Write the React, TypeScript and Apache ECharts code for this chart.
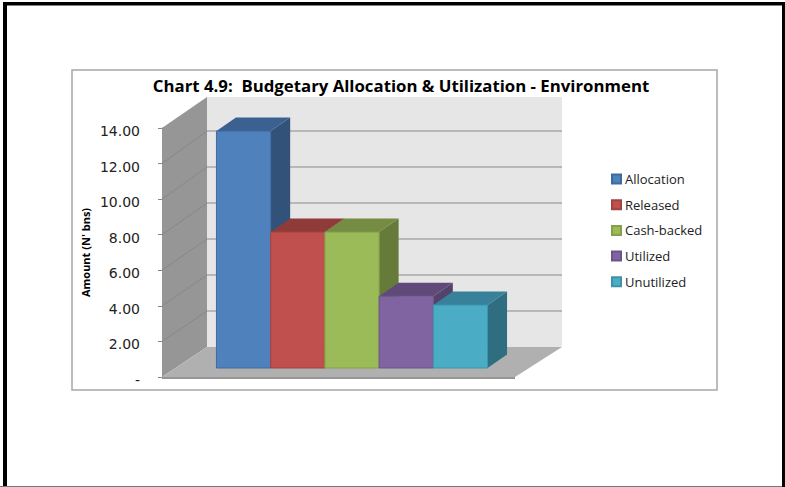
import React, { useEffect, useRef } from "react";
import * as echarts from "echarts";

const titleText = "Chart 4.9:  Budgetary Allocation & Utilization - Environment";
const yAxisName = "Amount (N' bns)";
const categoryLabels = ["Environment"];
const seriesNames = ["Allocation", "Released", "Cash-backed", "Utilized", "Unutilized"];
const seriesValues = [13.32, 7.64, 7.64, 4.04, 3.54];
const tickValues = [0, 2, 4, 6, 8, 10, 12, 14];
const frontColors = ["#4f81bd", "#c0504d", "#9bbb59", "#8064a2", "#4bacc6"];
const topColors = ["#3c6191", "#8f3b39", "#748c43", "#5f4a7a", "#38819a"];
const sideColors = ["#32527a", "#7c3331", "#667a3a", "#53426b", "#2f6e80"];
const edgeColors = ["#3f6aa0", "#a04341", "#84a04a", "#6c5489", "#3f93a9"];

const WALL_DX = 45;
const WALL_DY = 30;
const BACK_SCALE = 1.012;
const BAR_INSET_DX = 13.5;
const BAR_INSET_DY = 9;
const BAR_DEPTH_DX = 19.5;
const BAR_DEPTH_DY = 13.5;
const BAR_GROUP_RATIO = 0.768;

const renderWalls = (params: any, api: any) => {
  const value = api.value(0);
  const ys = api.coord([0, value])[1];
  const y0 = api.coord([0, 0])[1];
  const yMax = api.coord([0, 14])[1];
  const cs = params.coordSys;
  const xL = cs.x;
  const xR = cs.x + cs.width;
  const bx = xL + WALL_DX;
  const backRight = xR + WALL_DX + 2;
  const backY = (v: number) => y0 - WALL_DY - (y0 - v) * BACK_SCALE;
  const wallTop = yMax - WALL_DY - 1;
  const children: any[] = [];
  if (value === 0) {
    children.push(
      { type: "rect", shape: { x: bx, y: wallTop, width: backRight - bx, height: y0 - WALL_DY - wallTop }, style: { fill: "#e6e6e6" } },
      { type: "polygon", shape: { points: [[xL, yMax], [bx, wallTop], [bx, y0 - WALL_DY], [xL, y0]] }, style: { fill: "#969696" } },
      { type: "polygon", shape: { points: [[xL, y0], [bx, y0 - WALL_DY], [backRight, y0 - WALL_DY], [xR, y0]] }, style: { fill: "#b0b0b0" } },
      { type: "rect", shape: { x: xL, y: y0, width: xR - xL, height: 2 }, style: { fill: "#969696" } }
    );
  } else if (value < 14) {
    const by = backY(ys);
    children.push(
      { type: "line", shape: { x1: xL, y1: ys, x2: bx, y2: by }, style: { stroke: "#878787", lineWidth: 1 } },
      { type: "line", shape: { x1: bx, y1: by, x2: backRight, y2: by }, style: { stroke: "#a9a9a9", lineWidth: 1.5 } }
    );
  }
  return { type: "group", children };
};

const renderBar = (params: any, api: any) => {
  const i = params.seriesIndex - 1;
  const band = api.size([1, 0])[0];
  const center = api.coord([0, 0])[0];
  const total = band * BAR_GROUP_RATIO;
  const w = total / seriesNames.length;
  const x = center - total / 2 + i * w + BAR_INSET_DX;
  const yb = api.coord([0, 0])[1] - BAR_INSET_DY;
  const yt = api.coord([0, api.value(1)])[1] - BAR_INSET_DY;
  const dx = BAR_DEPTH_DX;
  const dy = BAR_DEPTH_DY;
  return {
    type: "group",
    children: [
      { type: "polygon", shape: { points: [[x + w, yt], [x + w + dx, yt - dy], [x + w + dx, yb - dy], [x + w, yb]] }, style: { fill: sideColors[i] } },
      { type: "polygon", shape: { points: [[x, yt], [x + dx, yt - dy], [x + w + dx, yt - dy], [x + w, yt]] }, style: { fill: topColors[i] } },
      { type: "rect", shape: { x, y: yt, width: w, height: yb - yt }, style: { fill: frontColors[i], stroke: edgeColors[i], lineWidth: 1 } },
    ],
  };
};

export default function App() {
  const ref = useRef<HTMLDivElement>(null);
  useEffect(() => {
    const chart = echarts.init(ref.current!, undefined, { renderer: "svg" });
    chart.setOption({
      animation: false,
      backgroundColor: "#ffffff",
      title: {
        text: titleText,
        left: 396,
        top: 72,
        textAlign: "center",
        textStyle: { fontFamily: "Open Sans", fontSize: 16.8, fontWeight: "bold", color: "#000000" },
      },
      legend: {
        orient: "vertical",
        left: 606,
        top: 167,
        itemWidth: 9,
        itemHeight: 9,
        itemGap: 11.7,
        icon: "rect",
        data: seriesNames,
        selectedMode: false,
        textStyle: { fontFamily: "Open Sans", fontSize: 13, color: "#222222", padding: [0, 0, 0, -1], height: 14, lineHeight: 14 },
      },
      grid: { left: 162, top: 128, width: 353, height: 249 },
      xAxis: {
        type: "category",
        data: categoryLabels,
        axisLine: { show: false },
        axisTick: { show: false },
        axisLabel: { show: false },
      },
      yAxis: {
        type: "value",
        min: 0,
        max: 14,
        interval: 2,
        name: yAxisName,
        nameLocation: "middle",
        nameRotate: 90,
        nameGap: 71,
        nameTextStyle: { fontFamily: "Open Sans", fontSize: 11, fontWeight: "bold", color: "#000000" },
        axisLine: { show: true, lineStyle: { color: "#868686", width: 1 } },
        axisTick: { show: true, length: 4, lineStyle: { color: "#868686" } },
        splitLine: { show: false },
        axisLabel: {
          margin: 22,
          fontFamily: "DejaVu Sans",
          fontSize: 14,
          color: "#222222",
          verticalAlign: "top",
          lineHeight: 6,
          formatter: (v: number) => (v === 0 ? "-" : v.toFixed(2)),
        },
      },
      series: [
        {
          name: "walls",
          type: "custom",
          silent: true,
          clip: false,
          renderItem: renderWalls,
          data: tickValues.map((v) => [v]),
          encode: { y: 0 },
        },
        ...seriesNames.map((name, i) => ({
          name,
          type: "custom",
          clip: false,
          renderItem: renderBar,
          itemStyle: { color: frontColors[i], borderColor: edgeColors[i], borderWidth: 1 },
          data: [[0, seriesValues[i]]],
          encode: { x: 0, y: 1 },
        })),
      ],
      graphic: [
        { type: "rect", silent: true, z: -10, shape: { x: 72, y: 70, width: 645, height: 320 }, style: { fill: "#ffffff", stroke: "#a6a6a6", lineWidth: 1.5 } },
        { type: "rect", silent: true, shape: { x: 3, y: 2, width: 779, height: 3.5 }, style: { fill: "#000000" } },
        { type: "rect", silent: true, shape: { x: 3, y: 2, width: 4, height: 485 }, style: { fill: "#000000" } },
        { type: "rect", silent: true, shape: { x: 782, y: 2, width: 3, height: 485 }, style: { fill: "#000000" } },
        { type: "rect", silent: true, shape: { x: 0, y: 486, width: 782, height: 1 }, style: { fill: "#777777" } },
      ],
    });
    return () => chart.dispose();
  }, []);
  return <div ref={ref} style={{ position: "absolute", left: 0, top: 0, width: 785, height: 487 }} />;
}
